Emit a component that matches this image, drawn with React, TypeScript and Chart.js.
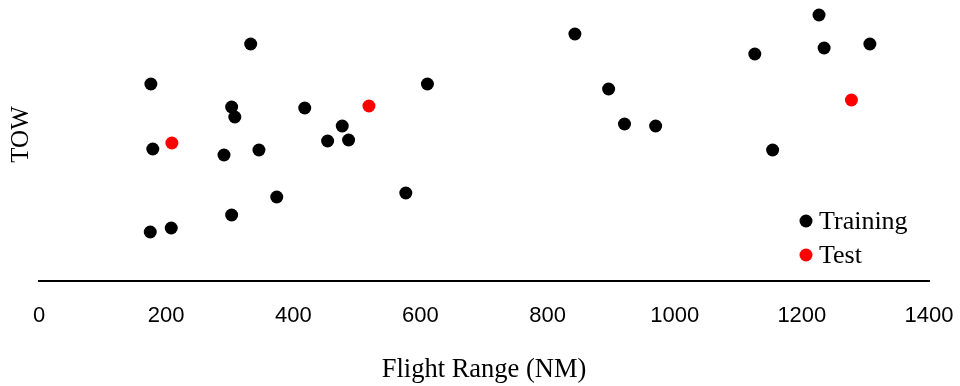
import React, { useEffect, useRef } from "react";
import { Chart, registerables } from "chart.js";

Chart.register(...registerables);

// Flight range (NM) and relative TOW values
const trainingRange = [176, 333, 303, 308, 418, 611, 477, 454, 487, 179, 291, 346, 577, 374, 303, 175, 208, 843, 896, 921, 970, 1126, 1227, 1235, 1307, 1154];
const trainingTOW = [197, 237, 174, 164, 173, 197, 155, 140, 141, 132, 126, 131, 88, 84, 66, 49, 53, 247, 192, 157, 155, 227, 266, 233, 237, 131];
const testRange = [209, 519, 1278];
const testTOW = [138, 175, 181];

const seriesLabels = ["Training", "Test"];
const seriesColors = ["#000000", "#FF0000"];
const xTitle = "Flight Range (NM)";
const yTitle = "TOW";
const xMin = 0;
const xMax = 1400;
const xStep = 200;
const yMin = 0;
const yMax = 293;

const serif = "'Liberation Serif', 'Times New Roman', serif";
const sans = "'Liberation Sans', Arial, sans-serif";

const legendPlugin = {
  id: "insideLegend",
  afterDraw(chart: any) {
    const { ctx, chartArea } = chart;
    const x0 = chartArea.right - 123;
    const y0 = chartArea.bottom - 60;
    ctx.save();
    ctx.font = `26px ${serif}`;
    ctx.textBaseline = "middle";
    ctx.textAlign = "left";
    chart.data.datasets.forEach((ds: any, i: number) => {
      const y = y0 + i * 34;
      ctx.beginPath();
      ctx.fillStyle = ds.backgroundColor;
      ctx.arc(x0, y, 6.5, 0, Math.PI * 2);
      ctx.fill();
      ctx.fillStyle = "#000";
      ctx.fillText(ds.label, x0 + 13, y + 1);
    });
    ctx.restore();
  },
};

export default function App() {
  const ref = useRef<HTMLCanvasElement>(null);

  useEffect(() => {
    if (!ref.current) return;
    const chart = new Chart(ref.current, {
      type: "scatter",
      data: {
        datasets: [
          {
            label: seriesLabels[0],
            data: trainingRange.map((x, i) => ({ x, y: trainingTOW[i] })),
            backgroundColor: seriesColors[0],
            borderColor: seriesColors[0],
            borderWidth: 0,
            pointRadius: 6.5,
            pointHoverRadius: 6.5,
          },
          {
            label: seriesLabels[1],
            data: testRange.map((x, i) => ({ x, y: testTOW[i] })),
            backgroundColor: seriesColors[1],
            borderColor: seriesColors[1],
            borderWidth: 0,
            pointRadius: 6.5,
            pointHoverRadius: 6.5,
          },
        ],
      },
      options: {
        responsive: false,
        animation: false,
        devicePixelRatio: 1,
        layout: { autoPadding: false, padding: { top: 0, right: 31, bottom: 0, left: 0 } },
        plugins: {
          legend: { display: false },
          tooltip: { enabled: false },
        },
        scales: {
          x: {
            type: "linear",
            min: xMin,
            max: xMax,
            grid: { display: false, drawTicks: false },
            border: { display: true, color: "#000", width: 2 },
            ticks: {
              stepSize: xStep,
              color: "#000",
              padding: 22,
              font: { family: sans, size: 22 },
              callback: (v: any) => String(v),
            },
            title: {
              display: true,
              text: xTitle,
              color: "#000",
              font: { family: serif, size: 26.5 },
              padding: { top: 0, bottom: 0 },
            },
            afterFit: (s: any) => {
              s.height = 105;
              s.paddingLeft = 0;
              s.paddingRight = 0;
            },
          },
          y: {
            type: "linear",
            min: yMin,
            max: yMax,
            grid: { display: false, drawTicks: false },
            border: { display: false },
            ticks: { display: false },
            title: {
              display: true,
              text: yTitle,
              color: "#000",
              font: { family: serif, size: 25 },
              padding: { top: 6, bottom: 0 },
            },
            afterFit: (s: any) => {
              s.width = 39;
            },
          },
        },
      },
      plugins: [legendPlugin],
    });
    return () => chart.destroy();
  }, []);

  return (
    <div style={{ position: "fixed", left: 0, top: -12, width: 960, height: 398, background: "#fff" }}>
      <canvas ref={ref} width={960} height={398} style={{ display: "block" }} />
    </div>
  );
}
